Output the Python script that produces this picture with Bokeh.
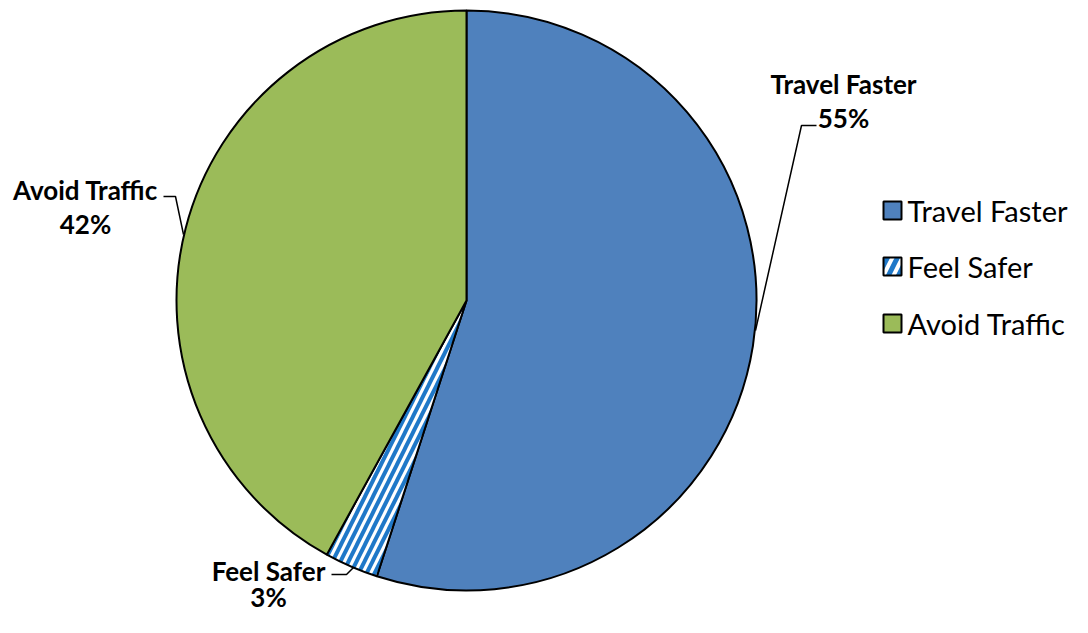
import math
from bokeh.plotting import figure
from bokeh.models import Range1d
from bokeh.core.properties import value
from bokeh.embed import file_html
from bokeh.resources import INLINE

# ---- data ----
categories = ["Travel Faster", "Feel Safer", "Avoid Traffic"]
shares = [55, 3, 42]
colors = ["#4F81BD", "#FFFFFF", "#9BBB59"]
hatches = [" ", "/", " "]

# ---- layout (pixel data coordinates, y measured upward) ----
W, H = 1072, 617
def Y(y):
    return H - y

cx, cy, r = 466, Y(300), 290

p = figure(width=W, height=H, output_backend="svg", toolbar_location=None,
           x_range=Range1d(0, W), y_range=Range1d(0, H),
           min_border=0, outline_line_color=None)
p.axis.visible = False
p.grid.visible = False
p.background_fill_color = "white"

total = sum(shares)
starts, ends = [], []
a = math.pi / 2
for s in shares:
    starts.append(a)
    a -= s / total * 2 * math.pi
    ends.append(a)

for i, cat in enumerate(categories):
    p.wedge(x=cx, y=cy, radius=r, start_angle=ends[i], end_angle=starts[i],
            fill_color=colors[i], line_color="black", line_width=2,
            hatch_pattern=hatches[i], hatch_color="#1F78C8",
            hatch_scale=16, hatch_weight=4)

# data labels with leader lines
label_pos = [(843, 83), (268, 570), (85, 189)]
pct_gap = [34, 26, 34]
leaders = [
    [(755, 330), (801, 125), (816, 125)],
    [(353, 567), (346, 574), (331, 574)],
    [(183, 234), (175, 196), (163, 196)],
]
for i, cat in enumerate(categories):
    lx, ly = label_pos[i]
    p.text(x=[lx], y=[Y(ly)], text=[cat], text_align="center",
           text_baseline="middle", text_font=value("Lato"),
           text_font_size="26px", text_font_style="bold", text_color="black")
    p.text(x=[lx], y=[Y(ly + pct_gap[i])], text=[f"{shares[i]}%"], text_align="center",
           text_baseline="middle", text_font=value("Lato"),
           text_font_size="26px", text_font_style="bold", text_color="black")
    pts = leaders[i]
    p.line(x=[q[0] for q in pts], y=[Y(q[1]) for q in pts],
           line_color="black", line_width=1.5)

# legend
leg_y = [210, 266, 323]
for i, cat in enumerate(categories):
    p.rect(x=[892], y=[Y(leg_y[i])], width=18, height=18,
           fill_color=colors[i], line_color="black", line_width=2,
           hatch_pattern=hatches[i], hatch_color="#1F78C8",
           hatch_scale=20, hatch_weight=5)
    p.text(x=[907], y=[Y(leg_y[i])], text=[cat], text_align="left",
           text_baseline="middle", text_font=value("Lato"),
           text_font_size="29px", text_color="black")

open("out.html", "w").write(file_html(p, INLINE))
